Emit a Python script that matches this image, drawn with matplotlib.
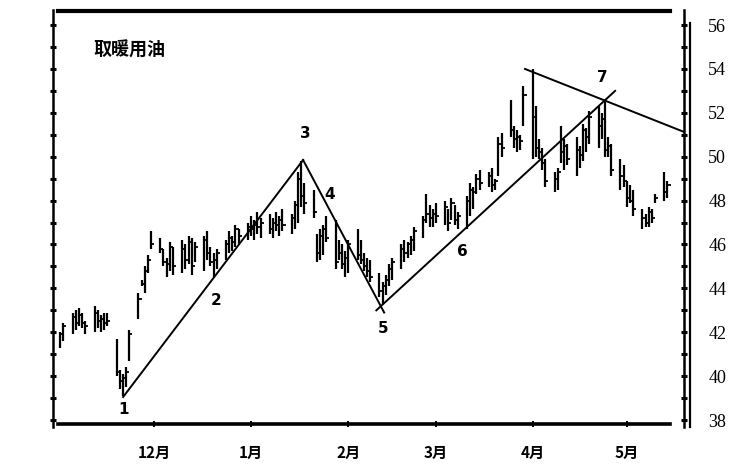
import numpy as np
import pandas as pd
from matplotlib import pyplot as plt
from matplotlib.lines import Line2D

plt.rcParams['font.family'] = ['Noto Sans CJK SC', 'DejaVu Sans']

# daily high / low / close, one value per trading day (Nov 1 .. May 14)
highs = [
    # Nov
    42.0, 42.4, 42.9, 43.0, 43.1, 42.9, 42.5, 43.2, 43.0, 42.8, 42.9, 42.9,
    41.7, 40.3, 40.1, 40.4, 42.1, 43.8, 44.4, 45.0, 45.5, 46.6,
    # Dec
    46.3, 45.8, 45.4, 46.1, 45.9, 46.2, 46.0, 46.4, 46.3, 46.1, 46.4, 46.6,
    45.9, 45.6, 45.8, 46.2, 46.6, 46.4, 46.9, 46.7, 47.0,
    # Jan
    47.3, 47.1, 47.5, 47.2, 47.4, 47.2, 47.5, 47.3, 47.6, 47.4, 48.0, 49.3,
    49.8, 48.8, 48.5, 46.5, 46.7, 46.9, 47.3, 47.1, 46.2, 46.0, 45.7,
    # Feb
    46.2, 46.7, 46.2, 45.6, 45.4, 45.3, 44.7, 44.3, 44.6, 45.1, 45.4, 46.0,
    46.2, 46.1, 46.4, 46.8, 47.3, 48.3, 47.8, 47.6,
    # Mar
    47.9, 48.0, 47.6, 48.1, 47.8, 47.5, 48.2, 48.8, 48.6, 49.2, 49.4, 49.3,
    49.5, 49.0, 50.9, 51.1, 52.6, 51.4, 51.2, 51.0, 53.2,
    # Apr
    54.0, 52.3, 50.8, 50.4, 49.9, 49.3, 49.5, 51.4, 50.8, 50.6, 50.9, 50.5,
    51.5, 51.3, 52.1, 52.3, 52.0, 52.6, 50.9, 50.6, 49.9, 49.6,
    # May
    48.9, 48.7, 48.5, 47.6, 47.4, 47.7, 47.6, 48.3, 49.3, 48.9,
]
lows = [
    # Nov
    41.3, 41.6, 41.9, 42.1, 42.3, 42.2, 41.9, 42.0, 42.2, 42.0, 42.1, 42.3,
    40.0, 39.4, 39.1, 39.5, 40.7, 42.6, 44.1, 43.8, 44.7, 45.8,
    # Dec
    45.6, 45.0, 44.5, 44.8, 44.6, 44.7, 44.9, 45.1, 44.6, 45.2, 44.8, 45.3,
    45.0, 44.5, 44.9, 45.3, 45.6, 45.7, 45.9, 46.0, 46.2,
    # Jan
    46.4, 46.2, 46.5, 46.3, 46.5, 46.3, 46.6, 46.4, 46.6, 46.5, 46.7, 47.0,
    47.7, 47.4, 47.2, 45.2, 45.3, 45.5, 46.1, 44.9, 45.3, 44.9, 44.5,
    # Feb
    44.7, 45.3, 45.1, 44.8, 44.5, 44.3, 43.6, 43.3, 43.7, 44.1, 44.4, 44.9,
    45.2, 45.4, 45.5, 45.7, 46.3, 47.0, 46.8, 46.8,
    # Mar
    47.0, 46.9, 46.6, 47.1, 46.9, 46.7, 46.7, 47.3, 47.6, 48.3, 48.5, 48.6,
    48.4, 48.5, 49.1, 50.0, 50.9, 50.4, 50.2, 50.3, 51.4,
    # Apr
    49.9, 50.0, 49.9, 49.4, 48.6, 48.4, 48.5, 49.7, 49.4, 49.6, 49.1, 49.5,
    49.8, 50.2, 50.6, 50.4, 50.8, 50.0, 50.0, 49.1, 48.5, 48.6,
    # May
    47.7, 47.9, 47.3, 46.7, 46.8, 46.8, 47.0, 47.9, 48.0, 48.1,
]
closes = [
    # Nov
    41.9, 42.3, 42.7, 42.4, 42.8, 42.4, 42.3, 42.9, 42.5, 42.6, 42.4, 42.5,
    40.2, 39.8, 39.9, 40.2, 41.9, 43.5, 44.2, 44.8, 45.3, 46.0,
    # Dec
    45.8, 45.2, 45.1, 45.9, 45.0, 45.8, 45.3, 46.1, 45.0, 45.9, 46.2, 45.6,
    45.2, 45.3, 45.6, 46.0, 46.3, 46.1, 46.7, 46.4, 46.8,
    # Jan
    46.7, 46.9, 46.8, 47.0, 46.7, 47.0, 46.9, 47.1, 46.9, 47.2, 47.8, 49.0,
    48.2, 47.9, 47.5, 45.6, 46.4, 46.7, 46.3, 45.2, 45.6, 45.1, 45.4,
    # Feb
    46.0, 45.5, 45.3, 45.0, 44.8, 44.5, 43.9, 44.1, 44.4, 44.9, 45.2, 45.8,
    45.6, 46.0, 46.2, 46.6, 47.1, 47.4, 47.2, 47.4,
    # Mar
    47.3, 47.7, 47.0, 47.9, 47.1, 47.3, 48.0, 48.5, 48.4, 49.0, 48.8, 49.1,
    48.7, 48.9, 50.6, 50.4, 51.2, 50.8, 50.9, 50.7, 52.8,
    # Apr
    51.8, 50.4, 50.2, 49.7, 48.9, 49.0, 49.3, 50.2, 50.5, 49.9, 50.3, 50.1,
    51.2, 50.9, 51.8, 51.4, 51.7, 50.3, 50.5, 49.4, 49.1, 48.9,
    # May
    48.1, 48.0, 47.6, 47.2, 47.0, 47.5, 47.2, 48.1, 48.4, 48.7,
]

origin = pd.Timestamp("1990-12-01")
dates = pd.bdate_range("1990-11-01", periods=len(highs))
days = np.array((dates - origin).days)

month_days = [0, 31, 62, 90, 121, 151]
month_labels = ["12月", "1月", "2月", "3月", "4月", "5月"]

# trend lines (day, price)
trend_lines = [
    ([-9.9, 47.6], [39.05, 49.85]),    # 1 -> 3
    ([47.6, 73.5], [49.85, 42.9]),     # 3 -> 5
    ([71.0, 147.3], [43.0, 53.0]),     # 5 -> 7
    ([118.5, 169.3], [54.0, 51.13]),   # top line
]
wave_labels = ["1", "2", "3", "4", "5", "6", "7"]
wave_x = [-9.9, 19.8, 48.2, 56.2, 73.2, 98.4, 143.1]
wave_y = [38.46, 43.47, 51.08, 48.26, 42.19, 45.66, 53.59]

fig = plt.figure(figsize=(7.56, 4.67), dpi=100)
ax = fig.add_axes([53/756, 1-424/467, 631/756, 413/467])

ax.vlines(days, lows, highs, color='k', linewidth=1.6)
ax.hlines(closes, days, days + 1.0, color='k', linewidth=1.3)
for xs, ys in trend_lines:
    ax.plot(xs, ys, color='k', linewidth=1.4)
for t, x, y in zip(wave_labels, wave_x, wave_y):
    ax.text(x, y, t, ha='center', va='center', fontsize=11, fontweight='bold',
            family='DejaVu Sans')

ax.text(0.0634, 0.906, "取暖用油", transform=ax.transAxes, ha='left', va='center',
        fontsize=13, fontweight='bold')

ax.set_xlim(-32.3, 169.3)
ax.set_ylim(37.82, 56.64)

ax.set_xticks(month_days)
ax.set_xticklabels(month_labels, fontsize=11, fontweight='bold')
ax.set_yticks(np.arange(38, 57, 2))
ax.set_yticks(np.arange(39, 56, 2), minor=True)
ax.set_yticklabels([str(v) for v in range(38, 57, 2)], family='Liberation Serif', fontsize=13)

ax.tick_params(axis='y', which='both', left=True, right=True, labelleft=False,
               labelright=True, direction='inout', length=5, width=2.2, pad=15)
ax.tick_params(axis='x', direction='inout', length=4, width=1.5, pad=13)

for side in ['top', 'bottom']:
    ax.spines[side].set_visible(False)
ax.spines['left'].set_linewidth(1.8)
ax.spines['right'].set_linewidth(1.8)
ax.spines['left'].set_bounds(37.7, 56.7)
ax.spines['right'].set_bounds(37.7, 56.7)

# thick top and bottom rules that stop short of the right axis
ax.plot([0.008, 0.978], [1, 1], transform=ax.transAxes, color='k', linewidth=3, clip_on=False)
ax.plot([0.008, 0.978], [0, 0], transform=ax.transAxes, color='k', linewidth=2.6, clip_on=False)
# second line of the right axis
fig.add_artist(Line2D([690/756, 690/756], [1-23/467, 1-427/467], color='k', linewidth=1.6))

fig.savefig("out.png")
